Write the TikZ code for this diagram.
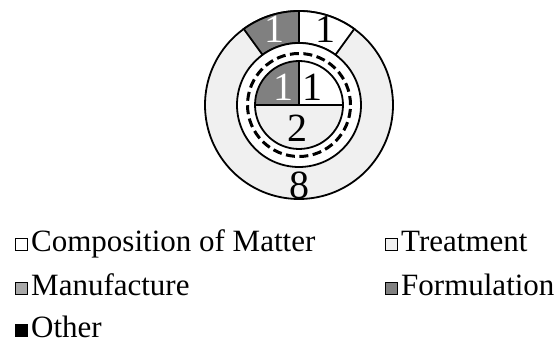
\documentclass[tikz,border=0pt]{standalone}
\usepackage{fontspec}
\setmainfont{Liberation Serif}
\usetikzlibrary{positioning}

\definecolor{treatgray}{gray}{0.94}
\definecolor{manugray}{gray}{0.66}
\definecolor{formgray}{gray}{0.50}

\tikzset{
  ring/.style={draw=black,line width=1.8pt},
  count/.style={font=\fontsize{40}{40}\selectfont,inner sep=0pt},
  keybox/.style={draw=black,line width=0.9pt,minimum size=12pt,inner sep=0pt},
  keytext/.style={font=\fontsize{31}{31}\selectfont,inner sep=0pt,anchor=base west}
}

\begin{document}
\begin{tikzpicture}[x=1pt,y=1pt]
\useasboundingbox (0,0) rectangle (555,347);

% outer ring
\begin{scope}[shift={(299,242)}]
\draw[ring,fill=treatgray] (0,0) circle (94);
\draw[ring,fill=formgray] (90:94) arc[start angle=90,end angle=126,radius=94] -- (126:62) arc[start angle=126,end angle=90,radius=62] -- cycle;
\draw[ring,fill=white] (54:94) arc[start angle=54,end angle=90,radius=94] -- (90:62) arc[start angle=90,end angle=54,radius=62] -- cycle;
\draw[ring,fill=white] (0,0) circle (62);
\draw[black,line width=3pt,dash pattern=on 9pt off 4.5pt] (0,0) circle (51.5);

% inner pie
\draw[ring,fill=treatgray] (0,0) -- (0:44) arc[start angle=0,end angle=-180,radius=44] -- cycle;
\draw[ring,fill=white] (0,0) -- (0:44) arc[start angle=0,end angle=90,radius=44] -- cycle;
\draw[ring,fill=formgray] (0,0) -- (90:44) arc[start angle=90,end angle=180,radius=44] -- cycle;

\node[count,text=white] (formout) at (108:80) {1};
\node[count] (compout) at (71:80) {1};
\node[count] (treatout) at (-90:80) {8};
\node[count,text=white] (formin) at (-16,18) {1};
\node[count] (compin) at (13,18) {1};
\node[count] (treatin) at (-2,-23) {2};
\end{scope}

% legend
\node[keybox,fill=white,anchor=south west] (compbox) at (15,96) {};
\node[keytext] (comptext) at (31,95) {Composition of Matter};
\node[keybox,fill=treatgray,anchor=south west] (treatbox) at (385,96) {};
\node[keytext] (treattext) at (401,95) {Treatment};
\node[keybox,fill=manugray,anchor=south west] (manubox) at (15,52) {};
\node[keytext] (manutext) at (31,51) {Manufacture};
\node[keybox,fill=formgray,anchor=south west] (formbox) at (385,52) {};
\node[keytext] (formtext) at (401,51) {Formulation};
\node[keybox,fill=black,anchor=south west] (otherbox) at (15,10) {};
\node[keytext] (othertext) at (31,9) {Other};
\end{tikzpicture}
\end{document}
